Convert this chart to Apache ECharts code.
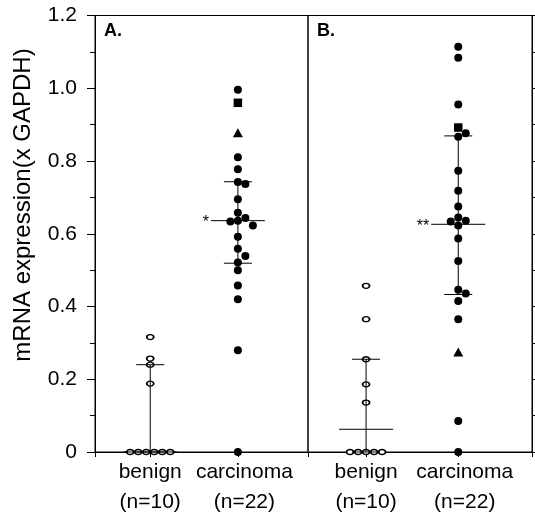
<!DOCTYPE html>
<html><head><meta charset="utf-8">
<script src="https://cdn.jsdelivr.net/npm/echarts@6/dist/echarts.min.js"></script>
<style>html,body{margin:0;padding:0;background:#fff}#c{width:535px;height:517px}</style>
</head><body><div id="c"></div>
<script>
// ---------- data ----------
const categories = ['benign\n(n=10)', 'carcinoma\n(n=22)'];
const panelLabels = ['A.', 'B.'];
const yTickLabels = [0, 0.2, 0.4, 0.6, 0.8, 1.0, 1.2];
const yTitle = 'mRNA expression(x GAPDH)';

// Panel A
const benignA = [0.316, 0.257, 0.240, 0.188, 0, 0, 0, 0, 0, 0];
const carcinomaA_circles = [0.996, 0.810, 0.777, 0.742, 0.737, 0.695, 0.658, 0.643, 0.636, 0.634, 0.623, 0.592, 0.559, 0.539, 0.521, 0.500, 0.458, 0.420, 0.280, 0];
const carcinomaA_squares = [0.960];
const carcinomaA_triangles = [0.878];
const medianA = [0, 0.636];
const q1A = [0, 0.519];
const q3A = [0.240, 0.743];
const signifA = ['', '*'];

// Panel B
const benignB = [0.457, 0.365, 0.255, 0.186, 0.136, 0, 0, 0, 0, 0];
const carcinomaB_circles = [1.114, 1.084, 0.955, 0.876, 0.867, 0.773, 0.718, 0.675, 0.645, 0.636, 0.634, 0.623, 0.587, 0.525, 0.446, 0.436, 0.415, 0.365, 0.085, 0];
const carcinomaB_squares = [0.892];
const carcinomaB_triangles = [0.275];
const medianB = [0.0625, 0.626];
const q1B = [0, 0.433];
const q3B = [0.255, 0.869];
const signifB = ['', '**'];

// ---------- layout ----------
const FONT = '"Liberation Sans", Arial, Helvetica, sans-serif';
const X_MIN = -0.63, X_MAX = 1.8;
const TOP = 15.5, HEIGHT = 437;
const grids = [
  {left: 95, top: TOP, width: 213, height: HEIGHT},
  {left: 308, top: TOP, width: 224, height: HEIGHT}
];
const pxPerY = HEIGHT / 1.2;

// beeswarm offsets (in px) computed from values
function swarm(vals, w, h, step) {
  const n = vals.length, off = new Array(n).fill(null);
  const groups = {};
  vals.forEach((v, i) => { (groups[v] = groups[v] || []).push(i); });
  Object.values(groups).forEach(g => {
    if (g.length > 1) g.forEach((i, k) => { off[i] = (k - (g.length - 1) / 2) * step; });
  });
  const placed = [];
  for (let i = 0; i < n; i++) if (off[i] !== null) placed.push(i);
  const order = [];
  for (let i = 0; i < n; i++) if (off[i] === null) order.push(i);
  order.sort((a, b) => vals[b] - vals[a]);
  order.forEach(i => {
    for (let k = 0; k < 50; k++) {
      const cand = k === 0 ? 0 : (k % 2 ? Math.ceil(k / 2) : -k / 2) * step;
      const ok = placed.every(j => {
        const dx = (cand - off[j]) / w, dy = (vals[i] - vals[j]) * pxPerY / h;
        return dx * dx + dy * dy >= 0.97;
      });
      if (ok) { off[i] = cand; placed.push(i); break; }
    }
  });
  return off;
}

function panelSeries(p, benign, circ, sq, tri, med, q1, q3, sig) {
  const ppu = grids[p].width / (X_MAX - X_MIN);
  const series = [];
  const bo = swarm(benign, 8, 5.5, 8);
  series.push({
    type: 'scatter', xAxisIndex: p, yAxisIndex: p, clip: false, z: 2,
    symbol: 'circle', symbolSize: [7, 5],
    itemStyle: {color: '#fff', borderColor: '#000', borderWidth: 1.5, opacity: 1},
    emphasis: {disabled: true},
    data: benign.map((v, i) => [0 + bo[i] / ppu, v])
  });
  const all = circ.map(v => ({v, s: 'circle'}))
    .concat(sq.map(v => ({v, s: 'rect'})))
    .concat(tri.map(v => ({v, s: 'triangle'})));
  const co = swarm(all.map(d => d.v), 7.5, 7.5, 7.5);
  const sizes = {circle: 8, rect: 8.5, triangle: [10, 9]};
  ['circle', 'rect', 'triangle'].forEach(s => {
    series.push({
      type: 'scatter', xAxisIndex: p, yAxisIndex: p, clip: false, z: 2,
      symbol: s, symbolSize: sizes[s],
      itemStyle: {color: '#000', opacity: 1},
      emphasis: {disabled: true},
      data: all.map((d, i) => d.s === s ? [1 + co[i] / ppu, d.v] : null).filter(Boolean)
    });
  });
  series.push({
    type: 'custom', xAxisIndex: p, yAxisIndex: p, clip: false, z: 3,
    data: med.map((m, i) => [i, m, q1[i], q3[i]]),
    renderItem: (params, api) => {
      const x = api.value(0);
      const pm = api.coord([x, api.value(1)]);
      const p1 = api.coord([x, api.value(2)]);
      const p3 = api.coord([x, api.value(3)]);
      const st = {stroke: '#000', lineWidth: 1};
      const ch = [
        {type: 'line', shape: {x1: pm[0] - 27, y1: pm[1], x2: pm[0] + 27, y2: pm[1]}, style: st},
        {type: 'line', shape: {x1: p3[0] - 14, y1: p3[1], x2: p3[0] + 14, y2: p3[1]}, style: st},
        {type: 'line', shape: {x1: p1[0] - 14, y1: p1[1], x2: p1[0] + 14, y2: p1[1]}, style: st},
        {type: 'line', shape: {x1: p1[0], y1: p1[1], x2: p3[0], y2: p3[1]}, style: st}
      ];
      const s = sig[params.dataIndex];
      if (s) ch.push({type: 'text', x: pm[0] - 29, y: pm[1] + 2,
        style: {text: s, textAlign: 'right', textVerticalAlign: 'middle', font: '16px ' + FONT, fill: '#000'}});
      return {type: 'group', children: ch};
    }
  });
  return series;
}

const xAxes = grids.map((g, p) => ({
  type: 'value', gridIndex: p, min: X_MIN, max: X_MAX, position: 'bottom',
  splitLine: {show: false},
  axisLine: {show: true, onZero: false, lineStyle: {color: '#000', width: 1}},
  axisTick: {show: true, inside: false, length: 5, customValues: [X_MIN, 0, 1, X_MAX], lineStyle: {color: '#000'}},
  axisLabel: {show: true, customValues: [0, 1], margin: 5, color: '#000',
    fontFamily: FONT, fontSize: 21, lineHeight: 30,
    formatter: v => {
      const i = Math.round(v);
      return categories[i].split('\n').map(t => '{' + (i === 0 ? 'b' : 'c') + '|' + t + '}').join('\n');
    },
    rich: {
      b: {color: '#000', fontFamily: FONT, fontSize: 21, lineHeight: 30},
      c: {color: '#000', fontFamily: FONT, fontSize: 21, lineHeight: 30, padding: [0, 0, 0, 13]}
    }}
}));

const yAxes = grids.map((g, p) => ({
  type: 'value', gridIndex: p, min: 0, max: 1.2, interval: 0.2,
  position: p === 0 ? 'left' : 'right',
  splitLine: {show: false},
  axisLine: {show: true, onZero: false, lineStyle: {color: '#000', width: 1}},
  axisTick: {show: true, length: p === 0 ? 8 : 4, lineStyle: {color: '#000'}},
  minorTick: {show: true, splitNumber: 2, length: p === 0 ? 5 : 4, lineStyle: {color: '#000'}},
  axisLabel: {show: p === 0, customValues: yTickLabels, margin: 18, color: '#000',
    fontFamily: FONT, fontSize: 21,
    formatter: v => v === 0 ? '0' : v.toFixed(1)}
}));

const chart = echarts.init(document.getElementById('c'), null, {renderer: 'canvas'});
chart.setOption({
  animation: false,
  backgroundColor: '#fff',
  grid: grids.map(g => Object.assign({show: true, borderColor: '#000', borderWidth: 1, backgroundColor: 'transparent'}, g)),
  xAxis: xAxes,
  yAxis: yAxes,
  graphic: [
    {type: 'text', left: 104, top: 22, style: {text: panelLabels[0], font: 'bold 18px ' + FONT, fill: '#000'}},
    {type: 'text', left: 317, top: 22, style: {text: panelLabels[1], font: 'bold 18px ' + FONT, fill: '#000'}},
    {type: 'text', x: 23, y: 205, rotation: Math.PI / 2,
      style: {text: yTitle, font: '24px ' + FONT, fill: '#000', textAlign: 'center', textVerticalAlign: 'middle'}}
  ],
  series: [].concat(
    panelSeries(0, benignA, carcinomaA_circles, carcinomaA_squares, carcinomaA_triangles, medianA, q1A, q3A, signifA),
    panelSeries(1, benignB, carcinomaB_circles, carcinomaB_squares, carcinomaB_triangles, medianB, q1B, q3B, signifB)
  )
});
</script></body></html>
